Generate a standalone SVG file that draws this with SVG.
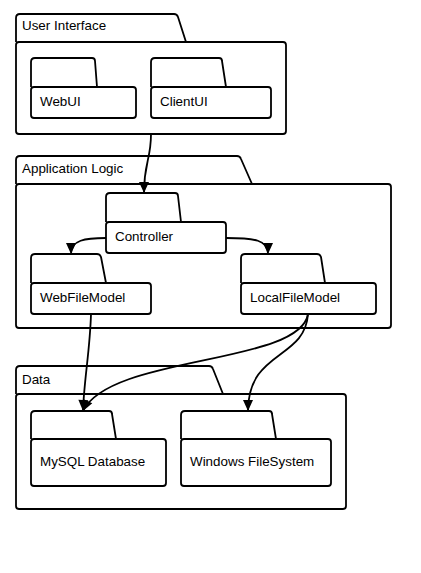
<svg xmlns="http://www.w3.org/2000/svg" width="421" height="573" viewBox="0 0 421 573">
<defs>
<style>
.pk{fill:#fff;stroke:#000;stroke-width:1.8;stroke-linejoin:round}
.lbl{font-family:"Liberation Sans",Arial,sans-serif;font-size:13.4px;fill:#000}
.cn{fill:none;stroke:#000;stroke-width:1.8}
</style>
<marker id="ah" markerUnits="userSpaceOnUse" markerWidth="13" markerHeight="13" viewBox="0 0 13 13" refX="12" refY="6.5" orient="auto">
<path d="M1,1.5 L12,6.5 L1,11.5 Z" fill="#000"/>
</marker>
</defs>
<rect width="421" height="573" fill="#fff"/>

<g id="user-interface">
<path class="pk" d="M16,42 V18 Q16,14 20,14 H174 Q177,14 178,17 L186,42"/>
<rect class="pk" x="16" y="42" width="270" height="92" rx="3"/>
<text class="lbl" x="22" y="30">User Interface</text>
</g>
<g id="webui">
<path class="pk" d="M31,87 V62 Q31,58 35,58 H92 Q95,58 95,61 L97,87"/>
<rect class="pk" x="31" y="87" width="105" height="31" rx="3"/>
<text class="lbl" x="40" y="106">WebUI</text>
</g>
<g id="clientui">
<path class="pk" d="M151,87 V62 Q151,58 155,58 H219 Q222,58 222,61 L226,87"/>
<rect class="pk" x="151" y="87" width="120" height="31" rx="3"/>
<text class="lbl" x="160" y="106">ClientUI</text>
</g>

<g id="application-logic">
<path class="pk" d="M16,184 V160 Q16,156 20,156 H237 Q240,156 241,159 L252,184"/>
<rect class="pk" x="16" y="184" width="375" height="144" rx="3"/>
<text class="lbl" x="22" y="173">Application Logic</text>
</g>
<g id="controller">
<path class="pk" d="M106,222 V197 Q106,193 110,193 H175 Q178,193 178,196 L181,222"/>
<rect class="pk" x="106" y="222" width="120" height="31" rx="3"/>
<text class="lbl" x="115" y="241">Controller</text>
</g>
<g id="webfilemodel">
<path class="pk" d="M31,283 V258 Q31,254 35,254 H97 Q100,254 101,257 L106,283"/>
<rect class="pk" x="31" y="283" width="120" height="31" rx="3"/>
<text class="lbl" x="40" y="302">WebFileModel</text>
</g>
<g id="localfilemodel">
<path class="pk" d="M241,283 V258 Q241,254 245,254 H317 Q320,254 321,257 L325,283"/>
<rect class="pk" x="241" y="283" width="135" height="31" rx="3"/>
<text class="lbl" x="250" y="302">LocalFileModel</text>
</g>

<g id="data">
<path class="pk" d="M16,394 V370 Q16,366 20,366 H209 Q212,366 213,369 L223,394"/>
<rect class="pk" x="16" y="394" width="330" height="115" rx="3"/>
<text class="lbl" x="22" y="384">Data</text>
</g>
<g id="mysql-database">
<path class="pk" d="M31,439 V415 Q31,411 35,411 H109 Q112,411 112,414 L116,439"/>
<rect class="pk" x="31" y="439" width="135" height="47" rx="3"/>
<text class="lbl" x="40" y="466">MySQL Database</text>
</g>
<g id="windows-filesystem">
<path class="pk" d="M181,439 V415 Q181,411 185,411 H269 Q272,411 272,414 L276,439"/>
<rect class="pk" x="181" y="439" width="150" height="47" rx="3"/>
<text class="lbl" x="190" y="466">Windows FileSystem</text>
</g>

<g id="connectors">
<path class="cn" marker-end="url(#ah)" d="M151,134 C151,160 144,162 144,193"/>
<path class="cn" marker-end="url(#ah)" d="M106,238 C85,238 71,240 71,254"/>
<path class="cn" marker-end="url(#ah)" d="M226,238 C255,238 268,240 268,254"/>
<path class="cn" marker-end="url(#ah)" d="M91,314 C90,350 84,380 83,411"/>
<path class="cn" marker-end="url(#ah)" d="M308,314 C300,365 110,355 83,411"/>
<path class="cn" marker-end="url(#ah)" d="M308,314 C305,360 248,350 248,411"/>
</g>
</svg>
